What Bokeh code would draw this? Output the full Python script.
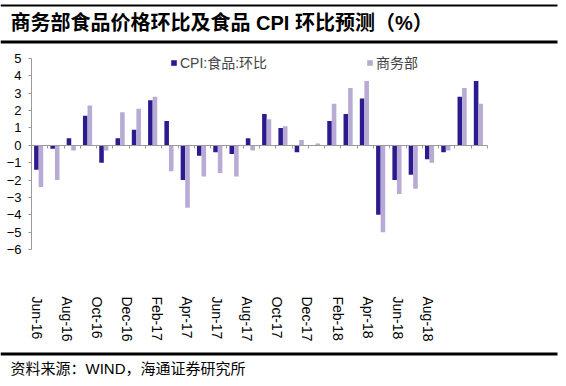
import math
from bokeh.plotting import figure
from bokeh.models import (Range1d, LinearAxis, FixedTicker, Label, BoxAnnotation,
                          Legend, LegendItem, ColumnDataSource)
from bokeh.embed import file_html
from bokeh.resources import INLINE

# ---- data ----
months = ["Jun-16", "Jul-16", "Aug-16", "Sep-16", "Oct-16", "Nov-16", "Dec-16",
          "Jan-17", "Feb-17", "Mar-17", "Apr-17", "May-17", "Jun-17", "Jul-17",
          "Aug-17", "Sep-17", "Oct-17", "Nov-17", "Dec-17", "Jan-18", "Feb-18",
          "Mar-18", "Apr-18", "May-18", "Jun-18", "Jul-18", "Aug-18", "Sep-18"]
cpi_food = [-1.4, -0.2, 0.4, 1.7, -1.0, 0.4, 0.9, 2.6, 1.4, -2.0, -0.6, -0.4, -0.5, 0.4,
            1.8, 1.0, -0.4, 0.0, 1.4, 1.8, 2.7, -4.0, -2.0, -1.7, -0.8, -0.4, 2.8, 3.7]
mofcom = [-2.4, -2.0, -0.3, 2.3, -0.3, 1.9, 2.1, 2.8, -1.5, -3.6, -1.8, -1.6, -1.8, -0.3,
          1.5, 1.1, 0.3, 0.1, 2.4, 3.3, 3.7, -5.0, -2.8, -2.5, -1.0, -0.3, 3.3, 2.4]
tick_labels = months[::2]
y_ticks = list(range(-6, 6))
Y_MIN, Y_MAX = -6, 5

title_text = "商务部食品价格环比及食品 CPI 环比预测（%）"
source_text = "资料来源：WIND，海通证券研究所"
series_names = ["CPI:食品:环比", "商务部"]

DARK = "#2B1B8E"
LIGHT = "#B7AAD4"
AXIS = "#9A9A9A"
FONT = "Liberation Sans, Noto Sans CJK SC"

n = len(months)
idx = list(range(n))

# frame covers the whole canvas; ranges padded so that the plotting area
# (0..n, -6..5) sits where the reference draws it
W, H = 566, 386
PLOT_L, PLOT_R, PLOT_T, PLOT_B = 31, 487, 58, 249     # in canvas px
sx = (PLOT_R - PLOT_L) / n
sy = (PLOT_B - PLOT_T) / (Y_MAX - Y_MIN)
x_range = Range1d(-PLOT_L / sx, n + (W - PLOT_R) / sx)
y_range = Range1d(Y_MIN - (H - PLOT_B) / sy, Y_MAX + PLOT_T / sy)

p = figure(width=W, height=H, output_backend="svg", toolbar_location=None,
           x_range=x_range, y_range=y_range, min_border=0,
           x_axis_type=None, y_axis_type=None)
p.outline_line_color = None
p.xgrid.visible = False
p.ygrid.visible = False

src = ColumnDataSource(dict(x1=[i + 0.3 for i in idx], x2=[i + 0.58 for i in idx],
                            cpi=cpi_food, mof=mofcom))
r1 = p.vbar(x="x1", top="cpi", bottom=0, width=0.28, source=src,
            fill_color=DARK, line_color=None)
r2 = p.vbar(x="x2", top="mof", bottom=0, width=0.28, source=src,
            fill_color=LIGHT, line_color=None)

# y axis
yax = LinearAxis(fixed_location=0, bounds=(Y_MIN, Y_MAX),
                 ticker=FixedTicker(ticks=y_ticks), axis_line_color=AXIS,
                 major_tick_line_color=AXIS, major_tick_out=3, major_tick_in=0,
                 minor_tick_line_color=None, major_label_standoff=7,
                 major_label_text_font=FONT, major_label_text_font_size="13px",
                 major_label_text_color="#000000")
p.add_layout(yax, "left")

# zero line axis with category boundary ticks (no labels)
bounds_ticks = list(range(n + 1))
zax = LinearAxis(fixed_location=0, bounds=(0, n),
                 ticker=FixedTicker(ticks=bounds_ticks),
                 major_label_overrides={t: "" for t in bounds_ticks},
                 axis_line_color=AXIS, major_tick_line_color=AXIS,
                 major_tick_out=3, major_tick_in=0, minor_tick_line_color=None,
                 major_label_text_font_size="8px", major_label_text_color=None)
p.add_layout(zax, "below")

# bottom labels
label_pos = [0.33 + 1.846 * k for k in range(len(tick_labels))]
xax = LinearAxis(fixed_location=Y_MIN, bounds=(0, n),
                 ticker=FixedTicker(ticks=label_pos),
                 major_label_overrides={pos: lab for pos, lab in zip(label_pos, tick_labels)},
                 axis_line_color=None, major_tick_line_color=None,
                 minor_tick_line_color=None, major_label_standoff=41,
                 major_label_orientation=-math.pi / 2,
                 major_label_text_font=FONT, major_label_text_font_size="14px",
                 major_label_text_color="#000000")
p.add_layout(xax, "below")

# legends
leg_kw = dict(padding=0, margin=0, border_line_color=None, background_fill_alpha=0,
              glyph_width=7, glyph_height=7, label_standoff=3,
              label_text_font=FONT, label_text_font_size="14px")
leg1 = Legend(items=[LegendItem(label=series_names[0], renderers=[r1])],
              location=(170, 314), **leg_kw)
leg2 = Legend(items=[LegendItem(label=series_names[1], renderers=[r2])],
              location=(366, 314), **leg_kw)
p.add_layout(leg1, "center")
p.add_layout(leg2, "center")

# title, rules and footer
def rule(bottom, top):
    return BoxAnnotation(left=0, right=557, bottom=bottom, top=top,
                         left_units="screen", right_units="screen",
                         bottom_units="screen", top_units="screen",
                         fill_color="#000000", fill_alpha=1, line_color=None)

p.add_layout(rule(380, 382))
p.add_layout(rule(343, 346))
p.add_layout(rule(31, 34))
p.add_layout(Label(x=10, y=364, x_units="screen", y_units="screen", text=title_text,
                   text_font=FONT, text_font_size="20px", text_font_style="bold",
                   text_baseline="middle", text_color="#000000"))
p.add_layout(Label(x=10, y=18, x_units="screen", y_units="screen", text=source_text,
                   text_font=FONT, text_font_size="15px",
                   text_baseline="middle", text_color="#000000"))

open("out.html", "w").write(file_html(p, INLINE))
